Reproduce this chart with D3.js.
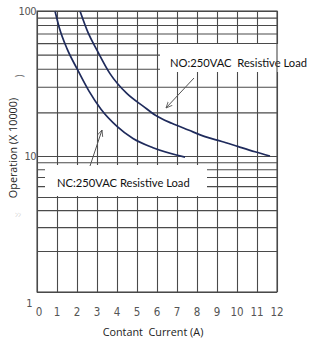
<!DOCTYPE html>
<html>
<head>
<meta charset="utf-8">
<script src="https://cdn.jsdelivr.net/npm/d3@7"></script>
<style>
  body { margin: 0; background: #fff; }
  svg { display: block; }
</style>
</head>
<body>
<div id="chart"></div>
<script>
// values
var xTickLabels = [0, 1, 2, 3, 4, 5, 6, 7, 8, 9, 10, 11, 12]
var yGridValues = [1, 2, 3, 4, 5, 6, 7, 8, 9, 10, 20, 30, 40, 50, 60, 70, 80, 90, 100]
var yTickLabels = [1, 10, 100]

var ncCurrent = [0.9, 1.1, 1.5, 2.0, 2.6, 3.2, 4.0, 4.8, 5.8, 7.4]
var ncOps = [100, 78, 55, 40, 28, 21, 16, 13.2, 11.4, 9.8]

var noCurrent = [2.15, 2.57, 2.99, 3.65, 4.49, 5.32, 5.9, 6.74, 7.57, 8.4, 9.24, 10.07, 10.9, 11.65]
var noOps = [100, 70, 54, 37, 27, 22, 19.2, 16.8, 15.1, 13.6, 12.6, 11.6, 10.7, 10]

var ncLabel = "NC:250VAC Resistive Load"
var noLabel = "NO:250VAC\u00a0\u00a0Resistive Load"

var width = 310, height = 345
var margin = { top: 11, left: 37 }
var plotW = 240, plotH = 281

var svg = d3.select("#chart").append("svg")
    .attr("width", width)
    .attr("height", height)

var x = d3.scaleLinear().domain([0, 12]).range([margin.left, margin.left + plotW])
// the scan has slightly different decade heights, so two pieces
var y = d3.scaleLog().domain([1, 10, 100]).range([margin.top + plotH, 156, margin.top])

var gridColor = "#4a4a4a"

// vertical grid
svg.append("g")
    .attr("transform", "translate(0," + (margin.top + plotH) + ")")
    .call(d3.axisBottom(x).tickValues(xTickLabels).tickSize(-plotH).tickFormat(""))
    .call(function (g) { g.select(".domain").remove() })
    .selectAll("line")
    .attr("stroke", gridColor)
    .attr("stroke-width", 1.1)

// horizontal grid
svg.append("g")
    .attr("transform", "translate(" + margin.left + ",0)")
    .call(d3.axisLeft(y).tickValues(yGridValues).tickSize(-plotW).tickFormat(""))
    .call(function (g) { g.select(".domain").remove() })
    .selectAll("line")
    .attr("stroke", gridColor)
    .attr("stroke-width", 1.1)

// curves
var line = d3.line()
    .x(function (d) { return x(d[0]) })
    .y(function (d) { return y(d[1]) })
    .curve(d3.curveMonotoneX)

var curves = [d3.zip(ncCurrent, ncOps), d3.zip(noCurrent, noOps)]
svg.selectAll(".curve")
    .data(curves)
    .enter()
    .append("path")
    .attr("class", "curve")
    .attr("d", line)
    .attr("fill", "none")
    .attr("stroke", "#1f2b5c")
    .attr("stroke-width", 1.7)

// label boxes (white, cover the grid)
svg.append("rect").attr("x", 45).attr("y", 165).attr("width", 162).attr("height", 31).attr("fill", "#fff")
svg.append("rect").attr("x", 160).attr("y", 44).attr("width", 150).attr("height", 28).attr("fill", "#fff")

var labelFont = "Lato, 'Open Sans', sans-serif"
var titleFont = "'Open Sans', 'Noto Sans', sans-serif"
svg.append("text")
    .attr("x", 57).attr("y", 187)
    .attr("font-family", labelFont)
    .attr("font-size", 11.2)
    .attr("fill", "#111")
    .text(ncLabel)

svg.append("text")
    .attr("x", 170).attr("y", 67)
    .attr("font-family", labelFont)
    .attr("font-size", 11.2)
    .attr("fill", "#111")
    .text(noLabel)

// arrows
svg.append("defs").append("marker")
    .attr("id", "head")
    .attr("viewBox", "0 0 10 10")
    .attr("refX", 9).attr("refY", 5)
    .attr("markerWidth", 7).attr("markerHeight", 7)
    .attr("orient", "auto")
    .append("path")
    .attr("d", "M0,1 L9,5 L0,9")
    .attr("fill", "none")
    .attr("stroke", "#555")
    .attr("stroke-width", 1.2)

svg.append("line")
    .attr("x1", 194).attr("y1", 78).attr("x2", 166).attr("y2", 108)
    .attr("stroke", "#555").attr("stroke-width", 1)
    .attr("marker-end", "url(#head)")

svg.append("line")
    .attr("x1", 90).attr("y1", 166).attr("x2", 102).attr("y2", 130)
    .attr("stroke", "#555").attr("stroke-width", 1)
    .attr("marker-end", "url(#head)")

// plot border
svg.append("rect")
    .attr("x", margin.left).attr("y", margin.top)
    .attr("width", plotW).attr("height", plotH)
    .attr("fill", "none")
    .attr("stroke", gridColor)
    .attr("stroke-width", 1.1)

// tick labels
var tickFont = "'Liberation Sans Narrow', 'DejaVu Sans Condensed', sans-serif"
svg.append("g")
    .selectAll("text")
    .data(xTickLabels)
    .enter()
    .append("text")
    .attr("x", function (d) { return d === 0 ? x(d) + 2 : x(d) })
    .attr("y", 316)
    .attr("text-anchor", "middle")
    .attr("font-family", tickFont)
    .attr("font-size", 11.5)
    .attr("fill", "#555")
    .text(function (d) { return d })

svg.append("g")
    .selectAll("text")
    .data(yTickLabels)
    .enter()
    .append("text")
    .attr("x", function (d) { return d === 1 ? 32 : 36 })
    .attr("y", function (d) { return d === 1 ? y(d) + 15 : y(d) + 4 })
    .attr("text-anchor", "end")
    .attr("font-family", tickFont)
    .attr("font-size", 11)
    .attr("letter-spacing", -0.5)
    .attr("fill", "#555")
    .text(function (d) { return d })

// axis titles
svg.append("text")
    .attr("x", 153).attr("y", 336)
    .attr("text-anchor", "middle")
    .attr("font-family", titleFont)
    .attr("font-size", 10.8)
    .attr("fill", "#222")
    .text("Contant\u00a0\u00a0Current (A)")

svg.append("text")
    .attr("transform", "translate(16.5,148) rotate(-90)")
    .attr("text-anchor", "middle")
    .attr("font-family", titleFont)
    .attr("font-size", 10.8)
    .attr("fill", "#222")
    .text("Operation (X 10000)")

// stray marks from the scan
svg.append("text")
    .attr("transform", "translate(23,76) rotate(-90)")
    .attr("text-anchor", "middle")
    .attr("font-family", titleFont)
    .attr("font-size", 10)
    .attr("fill", "#777")
    .text(")")

svg.append("text")
    .attr("x", 18).attr("y", 217)
    .attr("text-anchor", "middle")
    .attr("font-family", titleFont)
    .attr("font-size", 6)
    .attr("fill", "#bbb")
    .text("ﾝﾝ")
</script>
</body>
</html>
